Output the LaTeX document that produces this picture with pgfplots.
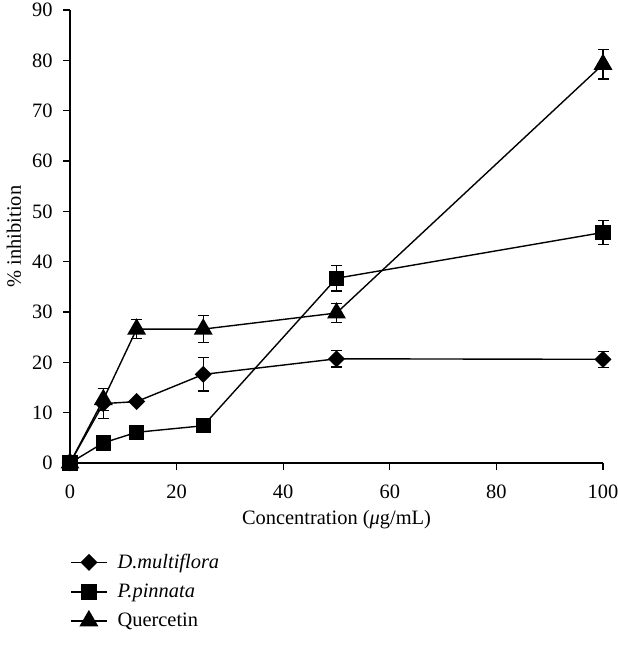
\documentclass[border=0pt]{standalone}
\usepackage{fontspec}
\setmainfont{Liberation Serif}
\usepackage{pgfplots}
\pgfplotsset{compat=1.18}
\pgfplotstableread{
x y e
0 0 0
6.25 11.8 3.0
12.5 12.2 0
25 17.6 3.3
50 20.7 1.6
100 20.6 1.6
}\dm
\pgfplotstableread{
x y e
0 0 0
6.25 4.0 0
12.5 6.1 0
25 7.4 0
50 36.7 2.5
100 45.8 2.4
}\pp
\pgfplotstableread{
x y e
0 0 0
6.25 12.6 2.2
12.5 26.6 1.9
25 26.6 2.7
50 29.8 1.9
100 79.2 2.9
}\qu
\newcommand\fs{\fontsize{20.5}{23}\selectfont}
\begin{document}
\begin{tikzpicture}
\begin{axis}[
 at={(0,0)}, anchor=south west,
 scale only axis, width=533bp, height=453bp,
 xmin=0, xmax=100, ymin=0, ymax=90,
 axis lines*=left,
 axis line style={line width=1.5bp},
 xtick={0,20,...,100}, ytick={0,10,...,90},
 tick style={line width=1.3bp, black}, tick align=outside, major tick length=7bp,
 clip=false,
 tick label style={font=\fs},
 xticklabel style={yshift=-11bp},
 yticklabel style={xshift=-7bp},
 label style={font=\fs},
 /pgf/number format/assume math mode=true,
 xlabel={Concentration ({\itshape μ}g/mL)},
 ylabel={\% inhibition},
 xlabel style={at={(axis description cs:0.5,-0.125)}, anchor=center},
 ylabel style={at={(axis description cs:-0.105,0.5)}, anchor=center},
 legend style={at={(axis description cs:0,-0.197)}, anchor=north west, draw=none, fill=none,
   font=\fs, row sep=10bp, inner sep=0pt, nodes={inner xsep=10bp}},
 legend cell align=left,
 legend image code/.code={\draw[mark repeat=2,mark phase=2,#1] plot coordinates {(0bp,0bp) (18bp,0bp) (36bp,0bp)};},
 every axis plot/.append style={black, line width=1.4bp},
 /pgfplots/error bars/y dir=both,
 /pgfplots/error bars/y explicit,
 /pgfplots/error bars/error bar style={line width=1.3bp, black},
 /pgfplots/error bars/error mark options={rotate=90, mark size=5.5bp, line width=1.3bp, black},
]
\addplot[mark=square*, mark options={rotate=45, mark size=5.3bp, solid}] table[x=x,y=y,y error=e] {\dm};
\addlegendentry{\textit{D.multiflora}}
\addplot[mark=square*, mark options={mark size=7bp, solid}] table[x=x,y=y,y error=e] {\pp};
\addlegendentry{\textit{P.pinnata}}
\addplot[mark=triangle*, mark options={mark size=9.5bp, solid}] table[x=x,y=y,y error=e] {\qu};
\addlegendentry{Quercetin}
\end{axis}
\pgfresetboundingbox
\path[use as bounding box] (-70bp,-186bp) rectangle (548bp,463bp);
\end{tikzpicture}
\end{document}
